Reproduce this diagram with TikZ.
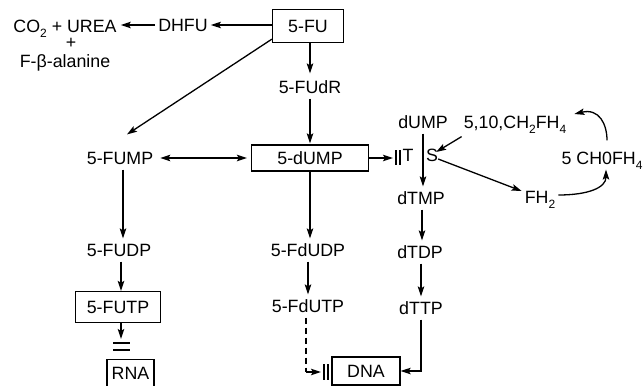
\documentclass[tikz,border=0pt]{standalone}
\usepackage{fontspec}
\setmainfont{Liberation Sans}
\usetikzlibrary{arrows.meta,calc}
\newcommand\sbs[1]{\raisebox{-0.5ex}{\fontsize{12}{12}\selectfont #1}}
\begin{document}
\begin{tikzpicture}[x=1pt,y=-1pt,
  lbl/.style={inner xsep=3pt, inner ysep=5pt, font=\fontsize{17.8}{20}\selectfont, text height=12.8pt, text depth=0pt},
  box/.style={lbl, draw, line width=1.3pt, inner sep=0pt},
  tip/.tip={Stealth[length=10pt,width=6.5pt,inset=2pt]},
  arr/.style={line width=1.3pt, -tip},
  ln/.style={line width=1.3pt}]
\useasboundingbox (0,0) rectangle (644,385);

% nodes
\node[box, minimum width=71pt, minimum height=33pt] (fu) at (308,26) {5-FU};
\node[lbl] (dhfu) at (183,25) {DHFU};
\node[lbl] (co2) at (65,26) {CO\sbs{2} + UREA};
\node[lbl, text height=7pt, inner ysep=1pt] (plus) at (71,45.5) {+};
\node[lbl] (fala) at (65,61.5) {F-β-alanine};
\node[lbl] (fudr) at (310,87) {5-FUdR};
\node[box, minimum width=117pt, minimum height=26pt] (dump) at (310,158) {5-dUMP};
\node[lbl] (fump) at (120,158) {5-FUMP};
\node[lbl] (fudp) at (119,250) {5-FUDP};
\node[box, minimum width=85pt, minimum height=31pt] (futp) at (118,307) {5-FUTP};
\node[box, minimum width=47pt, minimum height=27pt] (rna) at (130.5,373) {RNA};
\node[lbl] (fdudp) at (308,250) {5-FdUDP};
\node[lbl] (fdutp) at (308,306) {5-FdUTP};
\node[box, minimum width=68pt, minimum height=28pt] (dna) at (366,371) {DNA};
\node[lbl] (dumpt) at (423,122) {dUMP};
\node[lbl, inner xsep=1pt] (tl) at (408,155) {T};
\node[lbl, inner xsep=1pt] (sl) at (432,155) {S};
\node[lbl] (dtmp) at (421,198) {dTMP};
\node[lbl] (dtdp) at (420,252) {dTDP};
\node[lbl] (dttp) at (421,308) {dTTP};
\node[lbl] (ch2) at (515,122) {5,10,CH\sbs{2}FH\sbs{4}};
\node[lbl] (fh2) at (540,197) {FH\sbs{2}};
\node[lbl] (choh) at (602,158) {5 CH0FH\sbs{4}};

\coordinate (tsbar) at (393,158);
\coordinate (ib) at (121,339);
\coordinate (dk) at (306,372);
\coordinate (dbar) at (321,372);

% connectors
\draw[arr] (fu.west |- dhfu.east) -- (dhfu.east);
\draw[arr, shorten >=1pt] (dhfu.west) -- (co2.east |- dhfu.west);
\draw[arr, shorten >=2pt] (fudr.north |- fu.south) -- (fudr.north);
\draw[arr, shorten >=1pt] (fudr.south) -- (dump.north);
\draw[arr] ([yshift=4pt]fu.south west) -- ([shift={(7pt,12pt)}]fump.north);
\draw[arr, tip-tip, shorten <=4pt, shorten >=4pt] (fump.east) -- (dump.west);
\draw[arr] ([xshift=3pt]fump.south) -- ([xshift=3pt]fump.south |- fudp.north);
\draw[arr] ([xshift=2pt]fudp.south) -- ([xshift=2pt]fudp.south |- futp.north);
\draw[arr] (futp.south -| ib) -- (ib);
\draw[ln] (113,343) -- (130,343);
\draw[ln] (113,350) -- (130,350);
\draw[arr] (dump.south) -- (dump.south |- fdudp.north);
\draw[arr] (fdudp.south) -- (fdutp.north);
\draw[ln, dash pattern=on 6pt off 4pt] ([xshift=-2pt]fdutp.south) -- (dk);
\draw[arr] (dk) -- (dbar);
\draw[ln] (324,364) -- (324,380);
\draw[ln] (328,364) -- (328,380);
\draw[arr] (dttp.south) |- (dna.east);
\draw[arr] (dump.east) -- (tsbar);
\draw[ln] (396,150) -- (396,165);
\draw[ln] (400,150) -- (400,165);
\draw[arr] (dumpt.south) -- (dumpt.south |- dtmp.north);
\draw[arr] ([xshift=1pt]dtmp.south) -- ([xshift=1pt]dtmp.south |- dtdp.north);
\draw[arr] ([xshift=1pt]dtdp.south) -- ([xshift=1pt]dtdp.south |- dttp.north);
\draw[arr] ([xshift=1pt,yshift=-3pt]ch2.south west) -- ([shift={(-3pt,3pt)}]sl.east);
\draw[arr] ([shift={(-1pt,-4pt)}]sl.east) -- ([yshift=6pt]fh2.west);
\draw[arr] ([yshift=2pt]fh2.east) .. controls +(30,0) and +(0,18) .. ([xshift=4pt]choh.south);
\draw[arr, shorten <=6pt] ([xshift=5pt]choh.north) .. controls +(0,-22) and +(25,-6) .. ([shift={(5pt,8pt)}]ch2.east);
\end{tikzpicture}
\end{document}
